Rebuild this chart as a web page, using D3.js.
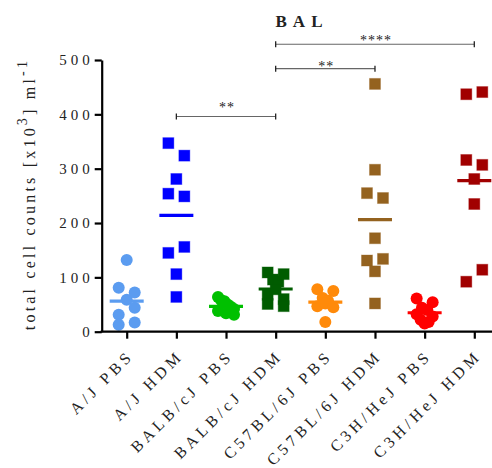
<!DOCTYPE html>
<html>
<head>
<meta charset="utf-8">
<script src="https://cdn.jsdelivr.net/npm/d3@7"></script>
<style>
  body { margin: 0; background: #fff; }
  svg { display: block; }
  text { font-family: "Liberation Serif", "DejaVu Serif", serif; fill: #222; }
</style>
</head>
<body>
<svg id="chart" width="492" height="468"></svg>
<script>
// Groups along the x axis
const categories = [
  "A/J PBS", "A/J HDM", "BALB/cJ PBS", "BALB/cJ HDM",
  "C57BL/6J PBS", "C57BL/6J HDM", "C3H/HeJ PBS", "C3H/HeJ HDM"
];

// Total BAL cell counts per animal (x10^3 / ml)
const ajPBS   = [132, 81, 59, 72, 31, 44, 13, 17];
const ajHDM   = [347, 324, 281, 254, 249, 145, 156, 106, 64];
const balbPBS = [64, 58, 56, 50, 46, 42, 38, 34, 31];
const balbHDM = [109, 96, 92, 106, 68, 78, 60, 51, 47];
const b6PBS   = [78, 62, 57, 75, 47, 52, 45, 18];
const b6HDM   = [456, 298, 255, 246, 172, 131, 111, 134, 52];
const c3hPBS  = [61, 44, 40, 54, 32, 22, 15, 18, 28];
const c3hHDM  = [437, 441, 316, 307, 281, 235, 92, 114];

const seriesValues = [ajPBS, ajHDM, balbPBS, balbHDM, b6PBS, b6HDM, c3hPBS, c3hHDM];
const markerShapes = ["circle", "square", "circle", "square", "circle", "square", "circle", "square"];
const groupColors  = ["#5b9cf0", "#0000ff", "#00c000", "#005c00", "#ff8a0a", "#94621f", "#ff0000", "#a10000"];

const yTicks = [0, 100, 200, 300, 400, 500];

// Pairwise comparisons drawn as brackets above the data
const comparisons = [
  { from: "A/J HDM",     to: "BALB/cJ HDM",  label: "**",   level: 396 },
  { from: "BALB/cJ HDM", to: "C57BL/6J HDM", label: "**",   level: 484 },
  { from: "BALB/cJ HDM", to: "C3H/HeJ HDM",  label: "****", level: 529 }
];

const svg = d3.select("#chart");

const plot = { left: 101.7, bottom: 331.7, top: 60, right: 500 };

const x = d3.scalePoint()
  .domain(categories)
  .range([126.7, 474.3]);

const y = d3.scaleLinear()
  .domain([0, 500])
  .range([plot.bottom, plot.top]);

// ---- points: scatter dot plot with points spread sideways in rows ----
const markerSize = 12;
const rowHeight = 14;
const halfSpread = 8;

function spreadOffsets(values) {
  const order = values.map((v, i) => i).sort((a, b) => values[b] - values[a]);
  const offsets = new Array(values.length).fill(0);
  let k = 0;
  while (k < order.length) {
    const startY = y(values[order[k]]);
    const row = [order[k]];
    k++;
    while (k < order.length && y(values[order[k]]) - startY < rowHeight) {
      row.push(order[k]);
      k++;
    }
    row.sort((a, b) => a - b);
    const n = row.length;
    row.forEach((idx, j) => {
      offsets[idx] = n > 1 ? -halfSpread + (2 * halfSpread) * j / (n - 1) : 0;
    });
  }
  return offsets;
}

const groups = svg.append("g").attr("class", "groups");

seriesValues.forEach((values, gi) => {
  const cx = x(categories[gi]);
  const color = groupColors[gi];
  const offs = spreadOffsets(values);
  const pts = values.map((v, i) => ({ v, dx: offs[i] }));
  const g = groups.append("g");

  if (markerShapes[gi] === "circle") {
    g.selectAll("circle")
      .data(pts)
      .join("circle")
      .attr("cx", d => cx + d.dx)
      .attr("cy", d => y(d.v))
      .attr("r", markerSize / 2)
      .attr("fill", color);
  } else {
    const s = markerSize - 1;
    g.selectAll("rect")
      .data(pts)
      .join("rect")
      .attr("x", d => cx + d.dx - s / 2)
      .attr("y", d => y(d.v) - s / 2)
      .attr("width", s)
      .attr("height", s)
      .attr("fill", color)
      .attr("stroke", color)
      .attr("stroke-opacity", 0.35)
      .attr("stroke-width", 1);
  }

  // group mean
  const m = d3.mean(values);
  g.append("line")
    .attr("x1", cx - 17)
    .attr("x2", cx + 17)
    .attr("y1", y(m))
    .attr("y2", y(m))
    .attr("stroke", color)
    .attr("stroke-width", 3.2);
});

// ---- axes ----
const yAxis = svg.append("g")
  .attr("transform", `translate(${plot.left},0)`)
  .call(d3.axisLeft(y).tickValues(yTicks).tickSize(7).tickPadding(1).tickSizeOuter(0));

yAxis.select(".domain").attr("stroke", "#000").attr("stroke-width", 2.2);
yAxis.selectAll(".tick line").attr("stroke", "#000").attr("stroke-width", 2.2);
yAxis.selectAll(".tick text")
  .attr("font-family", "Liberation Serif, DejaVu Serif, serif")
  .attr("font-size", 15)
  .attr("letter-spacing", "4px")
  .attr("fill", "#222");

const xAxis = svg.append("g")
  .attr("transform", `translate(0,${plot.bottom})`)
  .call(d3.axisBottom(x).tickSize(7).tickSizeOuter(0).tickFormat(""));

xAxis.select(".domain")
  .attr("d", `M${plot.left - 1.1},0H${plot.right}`)
  .attr("stroke", "#000").attr("stroke-width", 2.2);
xAxis.selectAll(".tick line").attr("stroke", "#000").attr("stroke-width", 2.2);

// rotated category labels
svg.append("g")
  .selectAll("text")
  .data(categories)
  .join("text")
  .attr("transform", d => `translate(${x(d) + 8},${plot.bottom + 25}) rotate(-45)`)
  .attr("text-anchor", "end")
  .attr("font-size", 16)
  .attr("letter-spacing", "4px")
  .text(d => d);

// y axis title with superscripts
const yTitle = svg.append("text")
  .attr("transform", `translate(35,194) rotate(-90)`)
  .attr("text-anchor", "middle")
  .attr("font-size", 16)
  .attr("letter-spacing", "3.2px");
yTitle.append("tspan").text("total cell counts [x10");
yTitle.append("tspan").attr("dy", -8).attr("font-size", 14).text("3");
yTitle.append("tspan").attr("dy", 8).text("] ml");
yTitle.append("tspan").attr("dy", -8).attr("font-size", 14).text("-1");

// chart title
svg.append("text")
  .attr("x", 302)
  .attr("y", 27)
  .attr("text-anchor", "middle")
  .attr("font-size", 17)
  .attr("font-weight", "bold")
  .attr("letter-spacing", "6px")
  .attr("fill", "#111")
  .text("BAL");

// ---- significance brackets ----
const labelGap = [14, 7, 8];
const br = svg.append("g");
comparisons.forEach((c, i) => {
  const x1 = x(c.from), x2 = x(c.to), yy = y(c.level);
  br.append("line")
    .attr("x1", x1).attr("x2", x2).attr("y1", yy).attr("y2", yy)
    .attr("stroke", "#666").attr("stroke-width", 1.2);
  [x1, x2].forEach(xx => br.append("line")
    .attr("x1", xx).attr("x2", xx).attr("y1", yy - 3).attr("y2", yy + 3)
    .attr("stroke", "#222").attr("stroke-width", 1.3));
  br.append("text")
    .attr("x", (x1 + x2) / 2 + 1)
    .attr("y", yy - labelGap[i] + 9)
    .attr("text-anchor", "middle")
    .attr("font-size", 14)
    .attr("letter-spacing", "1px")
    .attr("fill", "#444")
    .text(c.label);
});
</script>
</body>
</html>
